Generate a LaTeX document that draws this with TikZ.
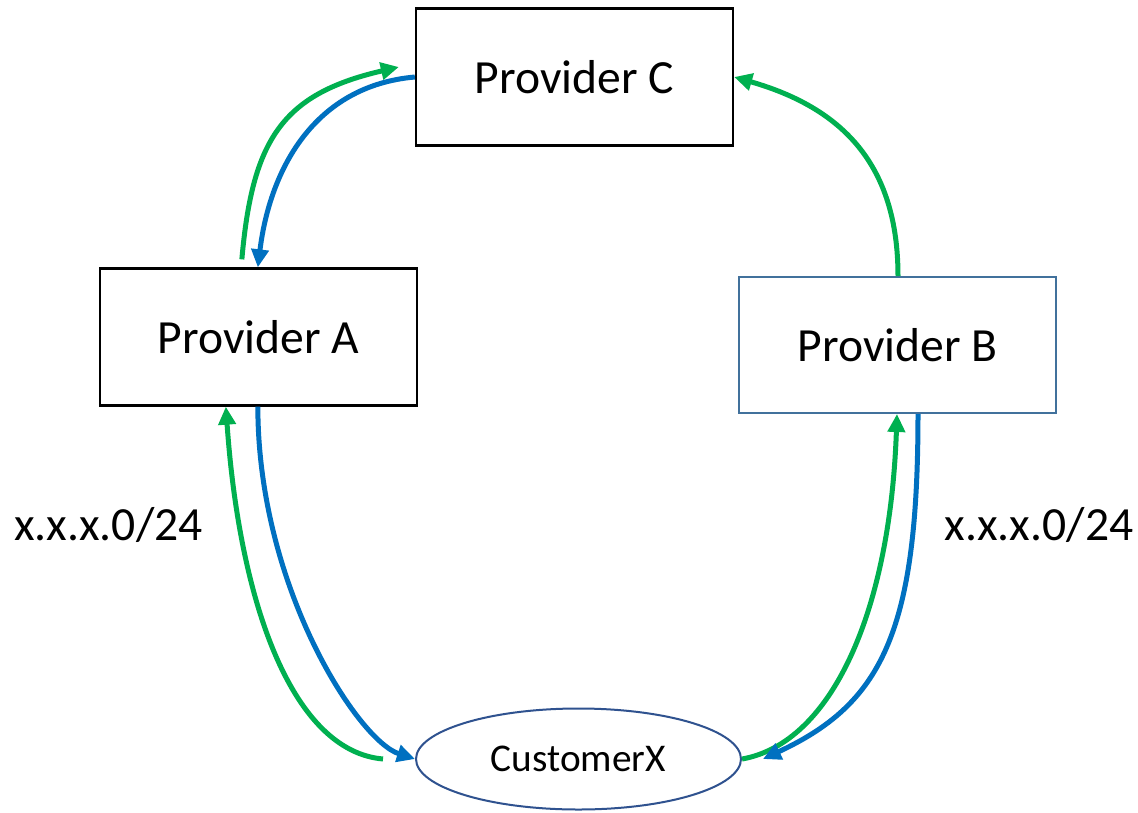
\documentclass[tikz,border=0pt]{standalone}
\usepackage{fontspec}
\setmainfont{Carlito}
\usetikzlibrary{arrows.meta,shapes.geometric}

\definecolor{routegreen}{HTML}{00B050}
\definecolor{routeblue}{HTML}{0070C0}
\definecolor{boxblue}{HTML}{41719C}
\definecolor{ovalblue}{HTML}{2F528F}

\tikzset{
  provbox/.style={draw=black, line width=2.3pt, rectangle, inner sep=0pt,
    minimum width=317pt, minimum height=137pt,
    font=\fontsize{47.6}{57}\selectfont},
  provboxb/.style={provbox, draw=boxblue, line width=2pt, minimum height=136pt},
  custoval/.style={draw=ovalblue, line width=2pt, ellipse, inner sep=0pt,
    minimum width=325pt, minimum height=101pt,
    font=\fontsize{39.3}{47}\selectfont},
  prefixlabel/.style={anchor=base, inner sep=0pt, font=\fontsize{47.6}{57}\selectfont},
  route/.style={line width=5pt, -{Triangle[length=18pt,width=17pt]}},
  adv/.style={route, draw=routegreen},
  traffic/.style={route, draw=routeblue}
}

\begin{document}
\begin{tikzpicture}[x=1pt,y=1pt]
  \fill[white] (0,0) rectangle (1138,-812);
  \useasboundingbox (0,0) rectangle (1138,-812);

  % providers and the customer
  \node[provbox]  (C) at (574.5,-77)  {Provider C};
  \node[provbox]  (A) at (258.5,-337) {Provider A};
  \node[provboxb] (B) at (897.5,-345) {Provider B};
  \node[custoval] (X) at (578.5,-759) {CustomerX};

  % announced prefix labels
  \node[prefixlabel] (pa) at (108.5,-540) {x.x.x.0/24};
  \node[prefixlabel] (pb) at (1039,-540)  {x.x.x.0/24};

  % A <-> C
  \draw[adv] ([xshift=143pt,yshift=8pt]A.north west)
    to[out=85,in=193,out distance=120pt,in distance=120pt]
    ([xshift=-16pt,yshift=10pt]C.west);
  \draw[traffic] (C.west)
    to[out=185,in=83,out distance=100pt,in distance=100pt]
    ([xshift=159pt]A.north west);

  % B -> C
  \draw[adv] ([xshift=160pt]B.north west)
    to[out=90,in=-16,out distance=112pt,in distance=112pt]
    (C.east);

  % A <-> CustomerX
  \draw[traffic] ([xshift=159pt]A.south west)
    to[out=270,in=162,out distance=180pt,in distance=60pt]
    (X.west);
  \draw[adv] ([xshift=-32pt]X.west)
    to[out=175,in=274,out distance=90pt,in distance=200pt]
    ([xshift=127pt]A.south west);

  % B <-> CustomerX
  \draw[adv] (X.east)
    to[out=10,in=268,out distance=90pt,in distance=200pt]
    ([xshift=159pt]B.south west);
  \draw[traffic] ([xshift=180pt]B.south west)
    to[out=270,in=25,out distance=220pt,in distance=130pt]
    ([xshift=21pt]X.east);
\end{tikzpicture}
\end{document}
